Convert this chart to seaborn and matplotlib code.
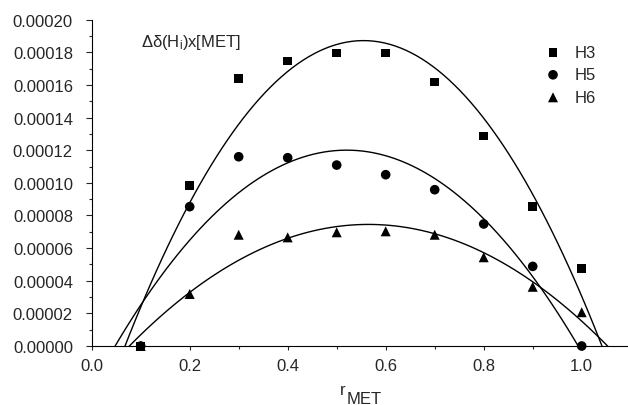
import matplotlib

matplotlib.use("Agg")
import matplotlib.pyplot as plt
import pandas as pd
import seaborn as sns
from matplotlib.ticker import FormatStrFormatter, MultipleLocator

# values
r_met = [0.1, 0.2, 0.3, 0.4, 0.5, 0.6, 0.7, 0.8, 0.9, 1.0]
h3 = [0.0, 9.85e-5, 1.638e-4, 1.746e-4, 1.797e-4, 1.797e-4, 1.618e-4, 1.287e-4, 8.55e-5, 4.75e-5]
h5 = [0.0, 8.54e-5, 1.16e-4, 1.154e-4, 1.109e-4, 1.05e-4, 9.58e-5, 7.48e-5, 4.88e-5, 0.0]
h6 = [0.0, 3.19e-5, 6.82e-5, 6.66e-5, 6.97e-5, 7.03e-5, 6.82e-5, 5.44e-5, 3.63e-5, 2.07e-5]

series = {"H3": h3, "H5": h5, "H6": h6}
markers = {"H3": "s", "H5": "o", "H6": "^"}
marker_sizes = {"H3": 38, "H5": 48, "H6": 52}

sns.set_style("ticks")
plt.rcParams["font.family"] = ["Liberation Sans", "DejaVu Sans"]
plt.rcParams["mathtext.fontset"] = "custom"
plt.rcParams["mathtext.rm"] = "Liberation Sans"
plt.rcParams["mathtext.it"] = "Liberation Sans:italic"

fig = plt.figure(figsize=(6.28, 4.06), dpi=100)
ax = fig.add_axes([0.146, 0.1453, 0.854, 0.8037])

ax.set_xlim(0, 1.0945)
ax.set_ylim(0, 0.0002)

for name, vals in series.items():
    df = pd.DataFrame({"r": r_met, "dd": vals})
    # quadratic least-squares fit, drawn across the whole axis
    sns.regplot(
        data=df,
        x="r",
        y="dd",
        order=2,
        ci=None,
        scatter=False,
        truncate=False,
        line_kws={"color": "black", "linewidth": 1.0},
        ax=ax,
    )
    sns.scatterplot(
        data=df,
        x="r",
        y="dd",
        marker=markers[name],
        s=marker_sizes[name],
        color="black",
        edgecolor="none",
        label=name,
        clip_on=False,
        zorder=3,
        ax=ax,
    )

ax.set_xlabel("")
ax.set_ylabel("")

ax.xaxis.set_major_locator(MultipleLocator(0.2))
ax.xaxis.set_minor_locator(MultipleLocator(0.1))
ax.yaxis.set_major_locator(MultipleLocator(0.00002))
ax.yaxis.set_minor_locator(MultipleLocator(0.00001))
ax.xaxis.set_major_formatter(FormatStrFormatter("%.1f"))
ax.yaxis.set_major_formatter(FormatStrFormatter("%.5f"))

ax.tick_params(axis="x", which="major", direction="out", length=2.6, width=0.8, pad=6, labelsize=12)
ax.tick_params(axis="x", which="minor", direction="out", length=1.8, width=0.8)
ax.tick_params(axis="y", which="major", direction="out", length=4.0, width=0.8, pad=9.5, labelsize=12)
ax.tick_params(axis="y", which="minor", direction="out", length=2.4, width=0.8)

for side in ["top", "right"]:
    ax.spines[side].set_visible(False)
for side in ["left", "bottom"]:
    ax.spines[side].set_linewidth(0.8)
    ax.spines[side].set_color("black")

ax.text(
    0.1, 0.0001838,
    "Δδ(H$_\\mathrm{i}$)x[MET]",
    fontsize=12,
    va="baseline",
    ha="left",
)

fig.text(340 / 628, 1 - 395 / 406, "r", fontsize=12, ha="left", va="baseline")
fig.text(347 / 628, 1 - 404 / 406, "MET", fontsize=12, ha="left", va="baseline")

ax.legend(
    frameon=False,
    loc="upper left",
    bbox_to_anchor=(533 / 628, 1 - 34 / 406),
    bbox_transform=fig.transFigure,
    fontsize=12,
    handlelength=1.0,
    handletextpad=0.8,
    labelspacing=0.45,
    borderpad=0.2,
)

fig.savefig("out.png", dpi=100)
plt.close(fig)
